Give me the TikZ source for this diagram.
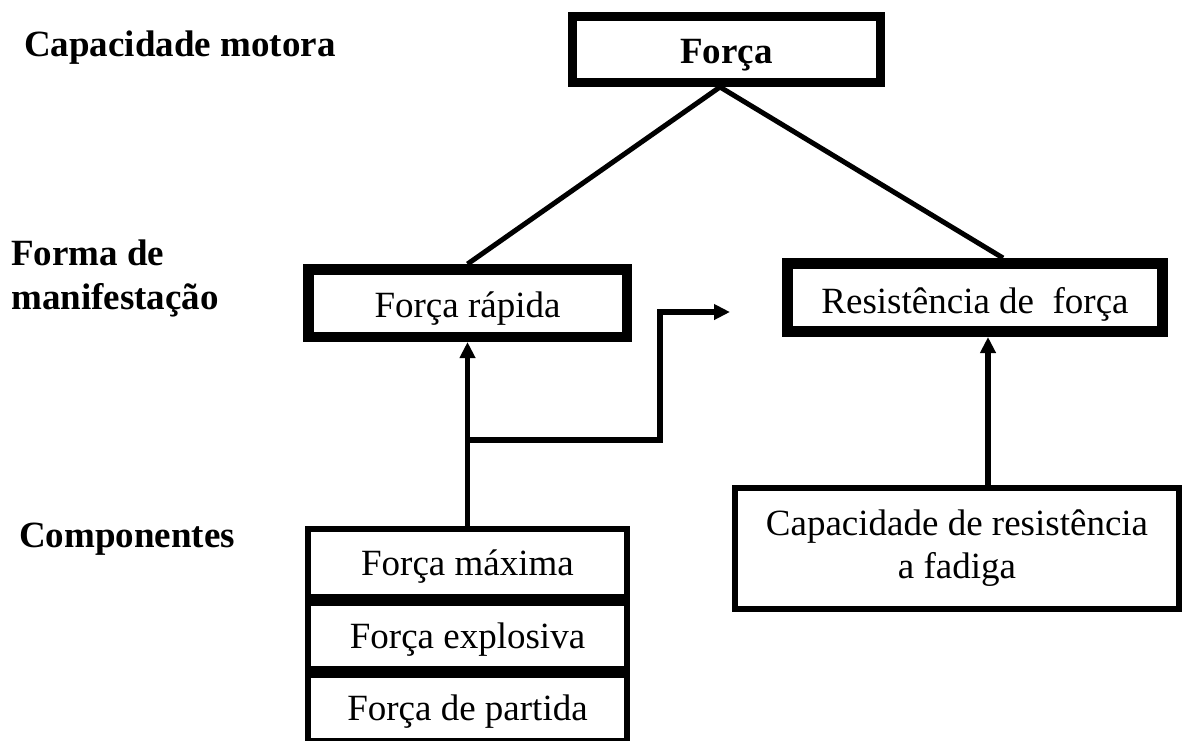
\documentclass[tikz,border=0pt]{standalone}
\usepackage{fontspec}
\setmainfont{Liberation Serif}
\usetikzlibrary{arrows.meta,calc}
\begin{document}
\begin{tikzpicture}[x=1pt,y=-1pt,
  txt/.style={font=\fontsize{37}{43}\selectfont},
  lab/.style={font=\fontsize{37}{45}\selectfont\bfseries, inner sep=0pt},
  box/.style={draw, rectangle, inner sep=0pt, txt},
  thickbox/.style={box, line width=10.5pt},
  thinbox/.style={box, line width=6pt},
  conn/.style={line width=5pt, line join=miter},
  arr/.style={line width=5.5pt, line join=miter, -{Triangle[length=16pt,width=15pt]}}]
\useasboundingbox (0,0) rectangle (1182,740);
% boxes
\node[box, line width=9pt, minimum width=308pt, minimum height=66pt, text height=27pt, text depth=0pt, font=\fontsize{37}{43}\selectfont\bfseries] (forca) at (726.5,49.5) {Força};
\node[thickbox, minimum width=318.5pt, minimum height=67.5pt, text height=28pt, text depth=0pt] (fr) at (467.5,303) {Força rápida};
\node[thickbox, line width=11pt, minimum width=375pt, minimum height=68pt, text height=31pt, text depth=0pt] (rf) at (975,297.5) {Resistência de\ \ força};
\node[thinbox, minimum width=319pt, minimum height=68pt, text height=24pt, text depth=0pt] (comp1) at (467.5,563) {Força máxima};
\node[thinbox, minimum width=319pt, minimum height=66pt, text height=24pt, text depth=0pt] (comp2) at (467.5,636) {Força explosiva};
\node[thinbox, minimum width=319pt, minimum height=66pt, text height=24pt, text depth=0pt] (comp3) at (467.5,708) {Força de partida};
\node[thinbox, minimum width=444pt, minimum height=121pt, align=center] (cap) at (957,548.5) {Capacidade de resistência\\a fadiga};
% left labels
\node[lab, anchor=base west] (l1) at (24,56) {Capacidade motora};
\node[lab, anchor=base west] (l2a) at (11,265) {Forma de};
\node[lab, anchor=base west] (l2b) at (11,309) {manifestação};
\node[lab, anchor=base west] (l3) at (19,547) {Componentes};
% connectors
\coordinate (apex) at (720,87);
\coordinate (rfjoin) at ($(rf.north)+(28,0)$);
\draw[conn] (fr.north) -- (apex) -- (rfjoin);
\draw[arr] (comp1.north) -- (fr.south);
\coordinate (j) at (467.5,440);
\coordinate (k) at (660,312);
\coordinate (t) at (730,312);
\draw[arr] (j) -| (k) -- (t);
\coordinate (c1) at (988,0);
\draw[arr] (cap.north -| c1) -- (rf.south -| c1);
\end{tikzpicture}
\end{document}
